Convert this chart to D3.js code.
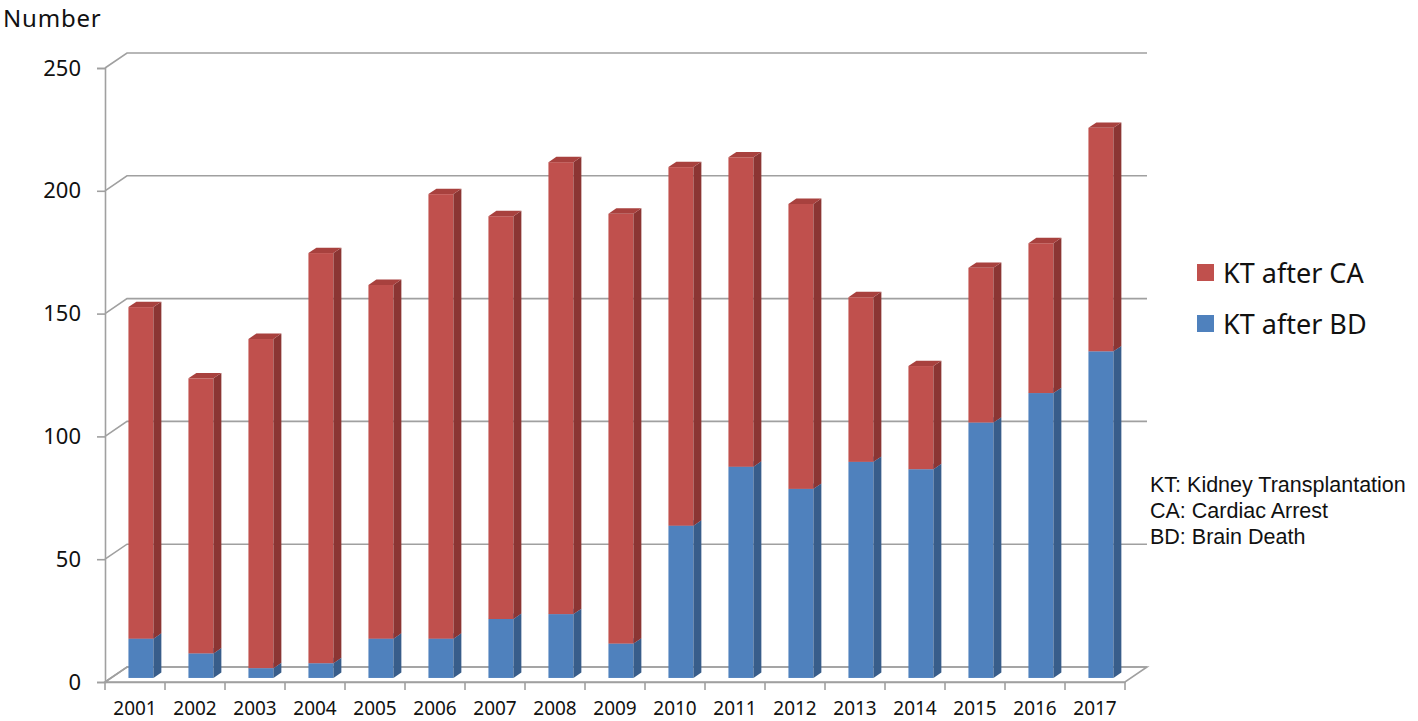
<!DOCTYPE html>
<html>
<head>
<meta charset="utf-8">
<script src="https://cdn.jsdelivr.net/npm/d3@7"></script>
<style>
  body { margin: 0; background: #fff; }
  svg text { fill: #111; }
  .tick-label { font-family: "Noto Sans", "Open Sans", sans-serif; }
  .note { font-family: "Liberation Sans", Arial, sans-serif; }
</style>
</head>
<body>
<div id="container"></div>
<script>
// data
var years = ["2001","2002","2003","2004","2005","2006","2007","2008","2009",
             "2010","2011","2012","2013","2014","2015","2016","2017"];
var ktAfterBD = [16, 10, 4, 6, 16, 16, 24, 26, 14, 62, 86, 77, 88, 85, 104, 116, 133];
var ktAfterCA = [135, 112, 134, 167, 144, 181, 164, 184, 175, 146, 126, 116, 67, 42, 63, 61, 91];
var yTicks = [0, 50, 100, 150, 200, 250];
var seriesNames = ["KT after CA", "KT after BD"];
var notes = ["KT: Kidney Transplantation", "CA: Cardiac Arrest", "BD: Brain Death"];

var width = 1418, height = 721;

// 3d-ish depth offset (floor goes back by depthX, up by depthY)
var depthX = 22, depthY = 15;

var x = d3.scaleBand().domain(years).range([105, 1125]).padding(0);
var y = d3.scaleLinear().domain([0, 250]).range([682, 68]);

function px(xv, z) { return xv + depthX * z; }
function py(v, z) { return y(v) - depthY * z; }

var svg = d3.select("#container").append("svg")
    .attr("width", width).attr("height", height);

var gridColor = "#a0a0a0";
var x0 = x.range()[0], x1 = x.range()[1];

// gridlines: side wall diagonal + back wall horizontal
var grid = svg.append("g").attr("class", "grid");
yTicks.forEach(function(t) {
    grid.append("path")
        .attr("d", "M" + px(x0, 0) + "," + py(t, 0) +
                   "L" + px(x0, 1) + "," + py(t, 1) +
                   "L" + px(x1, 1) + "," + py(t, 1))
        .attr("fill", "none")
        .attr("stroke", gridColor)
        .attr("stroke-width", 1.6);
});

// floor
svg.append("path")
    .attr("d", "M" + px(x0, 0) + "," + py(0, 0) +
               "L" + px(x1, 0) + "," + py(0, 0) +
               "L" + px(x1, 1) + "," + py(0, 1) +
               "L" + px(x0, 1) + "," + py(0, 1) + "Z")
    .attr("fill", "none")
    .attr("stroke", gridColor)
    .attr("stroke-width", 1.6);

// y axis
var yAxis = d3.axisLeft(y).tickValues(yTicks).tickSize(8).tickPadding(16);
var yg = svg.append("g").attr("transform", "translate(" + x0 + ",0)").call(yAxis);
yg.select(".domain").attr("stroke", gridColor).attr("stroke-width", 1.6);
yg.selectAll(".tick line").attr("stroke", gridColor).attr("stroke-width", 1.6);
yg.selectAll(".tick text").attr("class", "tick-label")
    .attr("font-size", 22).attr("fill", "#111");

// x axis: ticks at band edges
var xAxis = d3.axisBottom(x).tickSize(0).tickPadding(20);
var xg = svg.append("g").attr("transform", "translate(0," + y(0) + ")").call(xAxis);
xg.select(".domain").attr("stroke", gridColor).attr("stroke-width", 1.6);
xg.selectAll(".tick text").attr("class", "tick-label")
    .attr("font-size", 19).attr("fill", "#111");
xg.selectAll(".edge")
    .data(years.concat(["end"]))
    .enter().append("line")
    .attr("x1", function(d, i) { return x0 + i * x.bandwidth(); })
    .attr("x2", function(d, i) { return x0 + i * x.bandwidth(); })
    .attr("y1", 0).attr("y2", 8)
    .attr("stroke", gridColor).attr("stroke-width", 1.6);

// bars
var data = years.map(function(yr, i) { return { year: yr, bd: ktAfterBD[i], ca: ktAfterCA[i] }; });
var stack = d3.stack().keys(["bd", "ca"]);
var series = stack(data);

var colors = {
    bd: { front: "#4f81bd", side: "#385d8a", top: "#6a93c6" },
    ca: { front: "#c0504d", side: "#8b3533", top: "#a8413e" }
};
var barW = 25, zFront = 0.27, zBack = 0.63;

var bars = svg.append("g").attr("class", "bars");
series.forEach(function(s) {
    var key = s.key;
    var g = bars.append("g").attr("class", "series-" + key);
    s.forEach(function(d) {
        var cx = x(d.data.year) + x.bandwidth() / 2;
        var xl = px(cx - barW / 2, zFront), xr = px(cx + barW / 2, zFront);
        var xrb = px(cx + barW / 2, zBack), xlb = px(cx - barW / 2, zBack);
        var yb = py(d[0], zFront), yt = py(d[1], zFront);
        var ybB = py(d[0], zBack), ytB = py(d[1], zBack);
        // front
        g.append("rect")
            .attr("x", xl).attr("y", yt)
            .attr("width", xr - xl).attr("height", yb - yt)
            .attr("fill", colors[key].front);
        // side
        g.append("path")
            .attr("d", "M" + xr + "," + yb + "L" + xr + "," + yt +
                       "L" + xrb + "," + ytB + "L" + xrb + "," + ybB + "Z")
            .attr("fill", colors[key].side);
        // top
        g.append("path")
            .attr("d", "M" + xl + "," + yt + "L" + xr + "," + yt +
                       "L" + xrb + "," + ytB + "L" + xlb + "," + ytB + "Z")
            .attr("fill", colors[key].top);
    });
});

// "Number" title
svg.append("text")
    .attr("class", "tick-label")
    .attr("x", 3).attr("y", 27)
    .attr("font-size", 24)
    .attr("letter-spacing", 0.8)
    .text("Number");

// legend
var legendColors = [colors.ca.front, colors.bd.front];
var legend = svg.append("g").attr("class", "legend");
seriesNames.forEach(function(name, i) {
    var ly = 264 + i * 51;
    legend.append("rect")
        .attr("x", 1197).attr("y", ly)
        .attr("width", 17).attr("height", 17)
        .attr("fill", legendColors[i]);
    legend.append("text")
        .attr("class", "tick-label")
        .attr("x", 1223).attr("y", ly + 19)
        .attr("font-size", 27)
        .text(name);
});

// notes
notes.forEach(function(n, i) {
    svg.append("text")
        .attr("class", "note")
        .attr("x", 1150).attr("y", 492 + i * 26)
        .attr("font-size", 21.5)
        .text(n);
});
</script>
</body>
</html>
